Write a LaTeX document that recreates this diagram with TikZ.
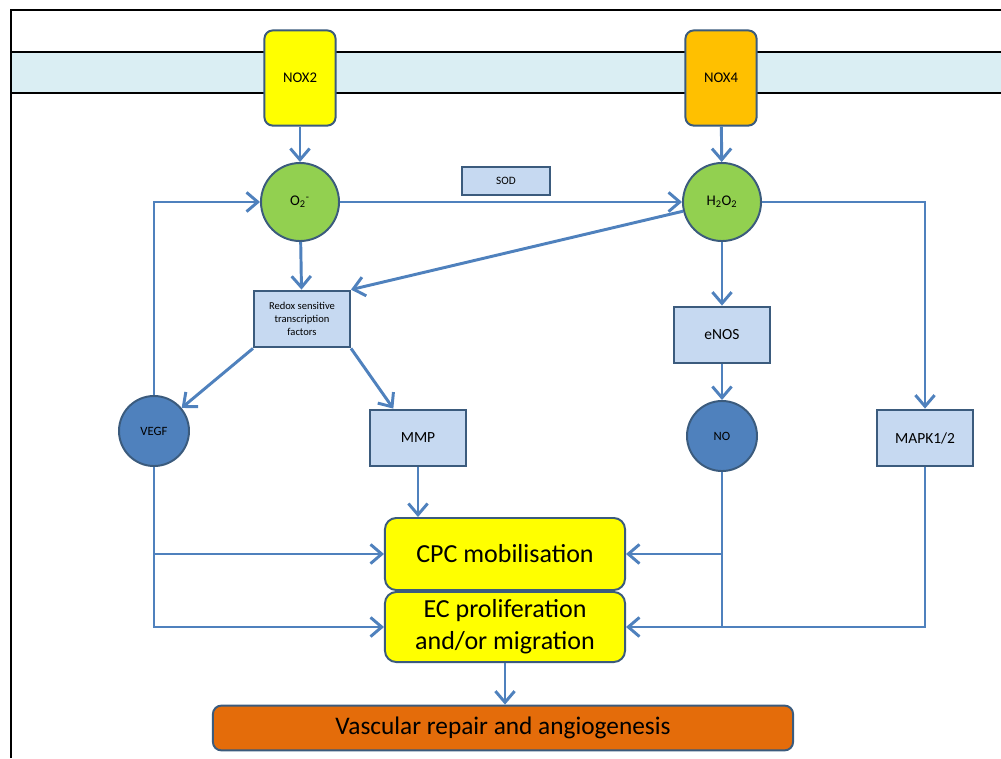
\documentclass[tikz,border=0pt]{standalone}
\usepackage{fontspec}
\setmainfont{Carlito}
\usepackage{xcolor}
\usetikzlibrary{shapes,arrows.meta,positioning,calc}

\definecolor{edge}{HTML}{3B5B7D}
\definecolor{link}{HTML}{4F81BD}
\definecolor{memb}{HTML}{DAEEF3}
\definecolor{paleblue}{HTML}{C6D9F1}
\definecolor{leaf}{HTML}{92D050}
\definecolor{deepblue}{HTML}{4F81BD}
\definecolor{noxtwo}{HTML}{FFFF00}
\definecolor{noxfour}{HTML}{FFC000}
\definecolor{repair}{HTML}{E46C0A}

\tikzset{
  enzyme/.style={rectangle, rounded corners=6pt, draw=edge, line width=1.4pt, minimum width=1.78cm, minimum height=2.38cm, font=\fontsize{10.5}{12}\selectfont},
  species/.style={circle, draw=edge, line width=1.4pt, fill=leaf, minimum size=1.95cm, inner sep=0pt, font=\fontsize{10.5}{12}\selectfont},
  messenger/.style={circle, draw=edge, line width=1.4pt, fill=deepblue, minimum size=1.75cm, inner sep=0pt, font=\fontsize{9}{11}\selectfont},
  factor/.style={rectangle, draw=edge, line width=1.4pt, fill=paleblue, minimum width=2.42cm, minimum height=1.42cm, font=\fontsize{11}{13}\selectfont},
  outcome/.style={rectangle, rounded corners=8pt, draw=edge, line width=1.4pt, fill=noxtwo, minimum width=6cm, inner sep=1pt, font=\fontsize{18.5}{23}\selectfont, align=center},
  arr/.style={link, line width=2.1pt, -{Straight Barb[length=2.8mm,width=4.8mm]}},
  wire/.style={link, line width=2.1pt}
}

\begin{document}
\begin{tikzpicture}[x=0.025cm, y=-0.025cm]
\useasboundingbox (0,0) rectangle (1001,758);

% membrane and frame
\fill[memb] (11,52) rectangle (1001,93);
\draw[line width=0.9pt] (11,52) -- (1001,52);
\draw[line width=1.4pt] (11,93) -- (1001,93);
\draw[line width=1.6pt] (11,758) -- (11,10) -- (1001,10);

\node[enzyme, fill=noxtwo] (nox2) at (300,78) {NOX2};
\node[enzyme, fill=noxfour] (nox4) at (721,78) {NOX4};

\node[species] (o2) at (300,202) {O\textsubscript{2}\textsuperscript{-}};
\node[species] (h2o2) at (722,202) {H\textsubscript{2}O\textsubscript{2}};
\node[factor, minimum width=2.2cm, minimum height=0.68cm, font=\fontsize{8}{9}\selectfont] (sod) at (506,181) {SOD};

\node[factor, minimum width=2.4cm, font=\fontsize{7.5}{9}\selectfont, align=center] (redox) at (302,319) {Redox sensitive\\transcription\\factors};
\node[messenger] (vegf) at (154,431) {VEGF};
\node[factor] (mmp) at (418,438) {MMP};
\node[factor] (enos) at (722,335) {eNOS};
\node[messenger] (no) at (722,436) {NO};
\node[factor, minimum width=2.38cm] (mapk) at (925,438) {MAPK1/2};

\node[outcome, minimum height=1.8cm] (cpc) at (505,554) {CPC mobilisation};
\node[outcome, minimum height=1.75cm] (ec) at (505,627) {EC proliferation\\and/or migration};
\node[outcome, fill=repair, minimum width=14.5cm, minimum height=1.12cm, rounded corners=6pt, font=\fontsize{18}{21}\selectfont] (vasc) at (503,728) {Vascular repair and angiogenesis};

% production
\draw[arr] (nox2) -- (o2);
\draw[arr] (nox4) -- (h2o2);
\draw[arr] (o2) -- (h2o2);
\draw[arr] (o2) -- (redox);
\draw[arr] (h2o2) -- (redox.north east);

% signalling
\draw[arr] (redox.south west) -- (vegf);
\draw[arr] (redox.south east) -- (mmp.130);
\draw[arr] (vegf.north) |- (o2.west);
\draw[arr] (h2o2) -- (enos);
\draw[arr] (enos) -- (no);
\draw[arr] (h2o2.east) -| (mapk.north);

% outcomes
\draw[arr] (mmp.south) -- (mmp.south |- cpc.north);
\draw[arr] (vegf.south) |- (ec.west);
\draw[arr] (vegf.south |- cpc.west) -- (cpc.west);
\draw[arr] (no.south) |- (ec.east);
\draw[arr] (no.south |- cpc.east) -- (cpc.east);
\draw[wire] (mapk.south) |- (no.south |- ec.east);
\draw[arr] (ec.south) -- (ec.south |- vasc.north);
\end{tikzpicture}
\end{document}
